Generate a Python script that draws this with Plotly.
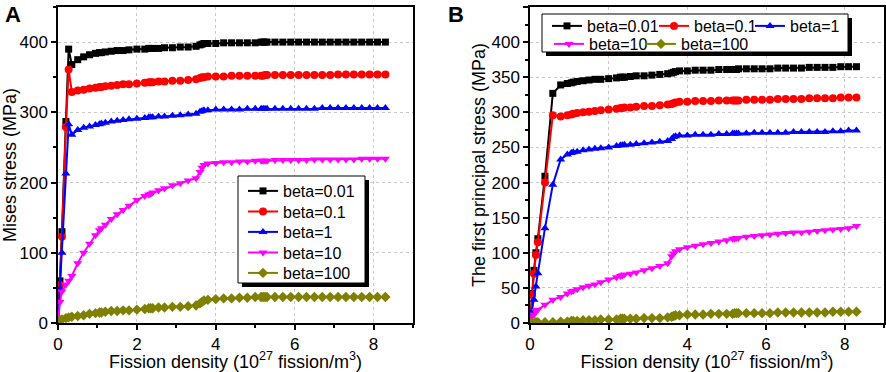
import plotly.graph_objects as go

# ---------------- data ----------------
series_names = ["beta=0.01", "beta=0.1", "beta=1", "beta=10", "beta=100"]

x_a = [0, 0.05, 0.1, 0.2, 0.27, 0.35,
       0.5, 0.65, 0.8, 0.95,
       1.05, 1.1, 1.2, 1.35, 1.5,
       1.65, 1.8, 2.0, 2.2, 2.3,
       2.35, 2.4, 2.55, 2.7, 2.9,
       3.1, 3.3, 3.5, 3.6, 3.65,
       3.7, 3.8, 4.0, 4.2, 4.4,
       4.6, 4.8, 5.0, 5.15, 5.2,
       5.25, 5.3, 5.5, 5.7, 5.9,
       6.1, 6.3, 6.5, 6.7, 6.9,
       7.1, 7.3, 7.5, 7.7, 7.9,
       8.1, 8.3]

mises_b001 = [0, 60, 130, 287, 390, 368,
              375, 379, 382, 384,
              385, 385, 386, 387, 388,
              388, 389, 390, 390, 391,
              391, 391, 391, 392, 392,
              393, 393, 394, 396, 397,
              398, 398, 398, 399, 399,
              399, 399, 399, 400, 400,
              400, 400, 400, 400, 400,
              400, 400, 400, 400, 400,
              400, 400, 400, 400, 400,
              400, 400]
mises_b01 = [0, 54, 123, 279, 361, 329,
             331, 332, 334, 335,
             336, 336, 337, 338, 339,
             340, 340, 341, 342, 343,
             343, 343, 344, 344, 345,
             345, 346, 347, 349, 350,
             350, 351, 351, 351, 352,
             352, 352, 352, 352, 352,
             353, 353, 353, 353, 353,
             353, 353, 353, 353, 353,
             354, 354, 354, 354, 354,
             354, 354]
mises_b1 = [0, 49, 100, 213, 283, 268,
            275, 278, 280, 282,
            283, 284, 285, 287, 288,
            289, 290, 291, 292, 293,
            293, 293, 294, 294, 295,
            296, 297, 298, 301, 302,
            303, 303, 304, 304, 304,
            304, 305, 305, 305, 305,
            305, 305, 305, 305, 305,
            305, 305, 305, 306, 306,
            306, 306, 306, 306, 306,
            306, 306]
mises_b10 = [0, 30, 45, 55, 60, 67,
             85, 100, 113, 125,
             132, 135, 140, 148, 155,
             161, 167, 175, 181, 183,
             184, 186, 189, 192, 196,
             199, 203, 206, 215, 221,
             225, 227, 228, 229, 229,
             230, 230, 231, 231, 231,
             231, 231, 232, 232, 232,
             232, 232, 233, 233, 233,
             233, 233, 233, 234, 234,
             234, 234]
mises_b100 = [0, 4, 5, 7, 8, 9,
              10, 11, 13, 14,
              15, 15, 16, 17, 17,
              18, 18, 19, 20, 21,
              21, 21, 22, 22, 23,
              23, 24, 25, 28, 30,
              32, 33, 34, 35, 35,
              36, 36, 37, 37, 37,
              37, 37, 37, 37, 37,
              37, 37, 37, 37, 37,
              37, 37, 37, 37, 37,
              37, 37]

x_b = [0, 0.05, 0.1, 0.15, 0.2,
       0.38, 0.58, 0.78, 0.95, 1.05,
       1.1, 1.2, 1.35, 1.5, 1.65,
       1.8, 2.0, 2.2, 2.3, 2.35,
       2.4, 2.55, 2.7, 2.9, 3.1,
       3.3, 3.5, 3.6, 3.65, 3.7,
       3.8, 4.0, 4.2, 4.4, 4.6,
       4.8, 5.0, 5.15, 5.2, 5.25,
       5.3, 5.5, 5.7, 5.9, 6.1,
       6.3, 6.5, 6.7, 6.9, 7.1,
       7.3, 7.5, 7.7, 7.9, 8.1,
       8.3]

princ_b001 = [0, 42, 75, 100, 120,
              209, 327, 339, 341, 342,
              343, 344, 345, 346, 347,
              347, 348, 349, 350, 350,
              350, 351, 352, 352, 353,
              354, 355, 356, 357, 358,
              359, 359, 360, 360, 360,
              361, 361, 361, 361, 361,
              362, 362, 362, 362, 362,
              363, 363, 363, 363, 364,
              364, 364, 364, 365, 365,
              365]
princ_b01 = [0, 40, 70, 97, 115,
             200, 296, 294, 296, 297,
             298, 299, 300, 301, 302,
             303, 304, 305, 306, 306,
             307, 307, 308, 309, 309,
             310, 311, 312, 313, 314,
             315, 315, 316, 316, 316,
             317, 317, 317, 317, 317,
             317, 318, 318, 318, 318,
             319, 319, 319, 319, 320,
             320, 320, 320, 321, 321,
             321]
princ_b1 = [0, 17, 33, 52, 71,
            135, 197, 233, 240, 242,
            243, 244, 246, 247, 248,
            249, 250, 252, 253, 253,
            254, 254, 255, 256, 257,
            258, 259, 262, 265, 266,
            267, 267, 268, 268, 268,
            269, 269, 270, 270, 270,
            270, 270, 271, 271, 271,
            271, 271, 272, 272, 272,
            272, 272, 273, 273, 274,
            274]
princ_b10 = [0, 9, 12, 17, 19,
             26, 33, 37, 42, 45,
             46, 48, 51, 53, 55,
             58, 62, 65, 67, 68,
             69, 70, 72, 75, 78,
             81, 85, 95, 99, 102,
             105, 108, 110, 112, 114,
             116, 118, 120, 120, 121,
             121, 123, 124, 125, 126,
             127, 128, 129, 129, 130,
             131, 132, 133, 134, 135,
             138]
princ_b100 = [0, 0, 0, 1, 1,
              1, 1, 2, 2, 3,
              3, 3, 4, 4, 4,
              5, 5, 5, 6, 6,
              6, 6, 6, 7, 7,
              7, 8, 9, 10, 11,
              11, 12, 12, 12, 13,
              13, 13, 13, 14, 14,
              14, 14, 14, 14, 14,
              15, 15, 15, 15, 15,
              15, 15, 16, 16, 16,
              16]

x_ticks = [0, 2, 4, 6, 8]
ya_ticks = [0, 100, 200, 300, 400]
yb_ticks = [0, 50, 100, 150, 200, 250, 300, 350, 400, 450]

colors = ["#000000", "#ff0000", "#0000ff", "#ff00ff", "#808000"]
symbols = ["square", "circle", "triangle-up", "triangle-down", "diamond"]
sizes = [7, 8, 8, 8, 8]

# ---------------- figure ----------------
W, H = 886, 372
fig = go.Figure()

series_a = [mises_b001, mises_b01, mises_b1, mises_b10, mises_b100]
series_b = [princ_b001, princ_b01, princ_b1, princ_b10, princ_b100]

def px_x(p):
    return p / W

def px_y(p):
    return 1 - p / H

font_family = "Liberation Sans, Arial, sans-serif"
leg_font = dict(size=16, family=font_family, color="black")
TEXT_OFF = 45   # legend left edge -> text start (px)
ROW_OFF = 16    # legend top -> row centre (px)

# legend placement: (text start x, row centre y) in pixels
legA_pos = [(288, 190), (288, 210.5), (288, 231), (288, 251.5), (288, 272)]
legB_pos = [(592, 25), (699, 25), (795, 25), (594, 43), (686, 43)]

legend_layouts = {}
for i, name in enumerate(series_names):
    lid = "legend" if i == 0 else "legend%d" % (i + 1)
    fig.add_trace(go.Scatter(
        x=x_a, y=series_a[i], name=name, mode="lines+markers",
        line=dict(color=colors[i], width=2),
        marker=dict(symbol=symbols[i], size=sizes[i], color=colors[i]),
        xaxis="x", yaxis="y", legend=lid))
    tx, ty = legA_pos[i]
    legend_layouts[lid] = dict(x=px_x(tx - TEXT_OFF), y=px_y(ty - ROW_OFF),
                               xanchor="left", yanchor="top",
                               bgcolor="rgba(0,0,0,0)", borderwidth=0,
                               font=leg_font, itemwidth=30)
for i, name in enumerate(series_names):
    lid = "legend%d" % (i + 6)
    fig.add_trace(go.Scatter(
        x=x_b, y=series_b[i], name=name, mode="lines+markers",
        line=dict(color=colors[i], width=2),
        marker=dict(symbol=symbols[i], size=sizes[i], color=colors[i]),
        xaxis="x2", yaxis="y2", legend=lid))
    tx, ty = legB_pos[i]
    legend_layouts[lid] = dict(x=px_x(tx - TEXT_OFF), y=px_y(ty - ROW_OFF),
                               xanchor="left", yanchor="top",
                               bgcolor="rgba(0,0,0,0)", borderwidth=0,
                               font=leg_font, itemwidth=30)

axis_common = dict(
    showline=True, linecolor="black", linewidth=1.5, mirror=True,
    ticks="outside", ticklen=5, tickwidth=1.5, tickcolor="black",
    showgrid=True, gridcolor="#c8c8c8", griddash="dot", gridwidth=1,
    zeroline=False, tickfont=dict(size=17, color="black", family=font_family),
    automargin=False,
)

xtitle = "Fission density (10<sup>27</sup> fission/m<sup>3</sup>)"
ydom = [px_y(323), px_y(7)]

fig.update_layout(
    width=W, height=H,
    margin=dict(l=0, r=0, t=0, b=0),
    paper_bgcolor="white", plot_bgcolor="white",
    font=dict(family=font_family, color="black", size=17),
    xaxis=dict(domain=[px_x(58), px_x(413)], range=[0, 9], tickvals=x_ticks,
               minor=dict(dtick=1, ticks="outside", ticklen=3, tickcolor="black", showgrid=False),
               title=dict(text=xtitle, font=dict(size=18), standoff=2),
               anchor="y", **axis_common),
    yaxis=dict(domain=ydom, range=[0, 450], tickvals=ya_ticks,
               minor=dict(dtick=50, ticks="outside", ticklen=3, tickcolor="black", showgrid=False),
               title=dict(text="Mises stress (MPa)", font=dict(size=18), standoff=3),
               anchor="x", **axis_common),
    xaxis2=dict(domain=[px_x(530), px_x(884)], range=[0, 9], tickvals=x_ticks,
                minor=dict(dtick=1, ticks="outside", ticklen=3, tickcolor="black", showgrid=False),
                title=dict(text=xtitle, font=dict(size=18), standoff=2),
                anchor="y2", **axis_common),
    yaxis2=dict(domain=ydom, range=[0, 450], tickvals=yb_ticks,
                minor=dict(dtick=25, ticks="outside", ticklen=3, tickcolor="black", showgrid=False),
                title=dict(text="The first principal stress (MPa)", font=dict(size=18), standoff=1),
                anchor="x2", **axis_common),
    showlegend=True,
    **legend_layouts,
)

# legend boxes with drop shadows
def box(x0, y0, x1, y1, shadow=4):
    fig.add_shape(type="rect", xref="paper", yref="paper",
                  x0=px_x(x0 + shadow), x1=px_x(x1 + shadow),
                  y0=px_y(y1 + shadow), y1=px_y(y0 + shadow),
                  fillcolor="black", line=dict(width=0), layer="above")
    fig.add_shape(type="rect", xref="paper", yref="paper",
                  x0=px_x(x0), x1=px_x(x1), y0=px_y(y1), y1=px_y(y0),
                  fillcolor="white", line=dict(width=1, color="black"), layer="above")

box(238, 176, 365, 283)
box(542, 14, 848, 52)

# panel labels
fig.add_annotation(text="<b>A</b>", x=px_x(13), y=px_y(15), xref="paper", yref="paper",
                   xanchor="center", yanchor="middle",
                   showarrow=False, font=dict(size=22, color="black", family=font_family))
fig.add_annotation(text="<b>B</b>", x=px_x(456), y=px_y(15), xref="paper", yref="paper",
                   xanchor="center", yanchor="middle",
                   showarrow=False, font=dict(size=22, color="black", family=font_family))

fig.write_html("out.html", config={"displayModeBar": False},
               post_script="document.body.style.margin='0px';")
